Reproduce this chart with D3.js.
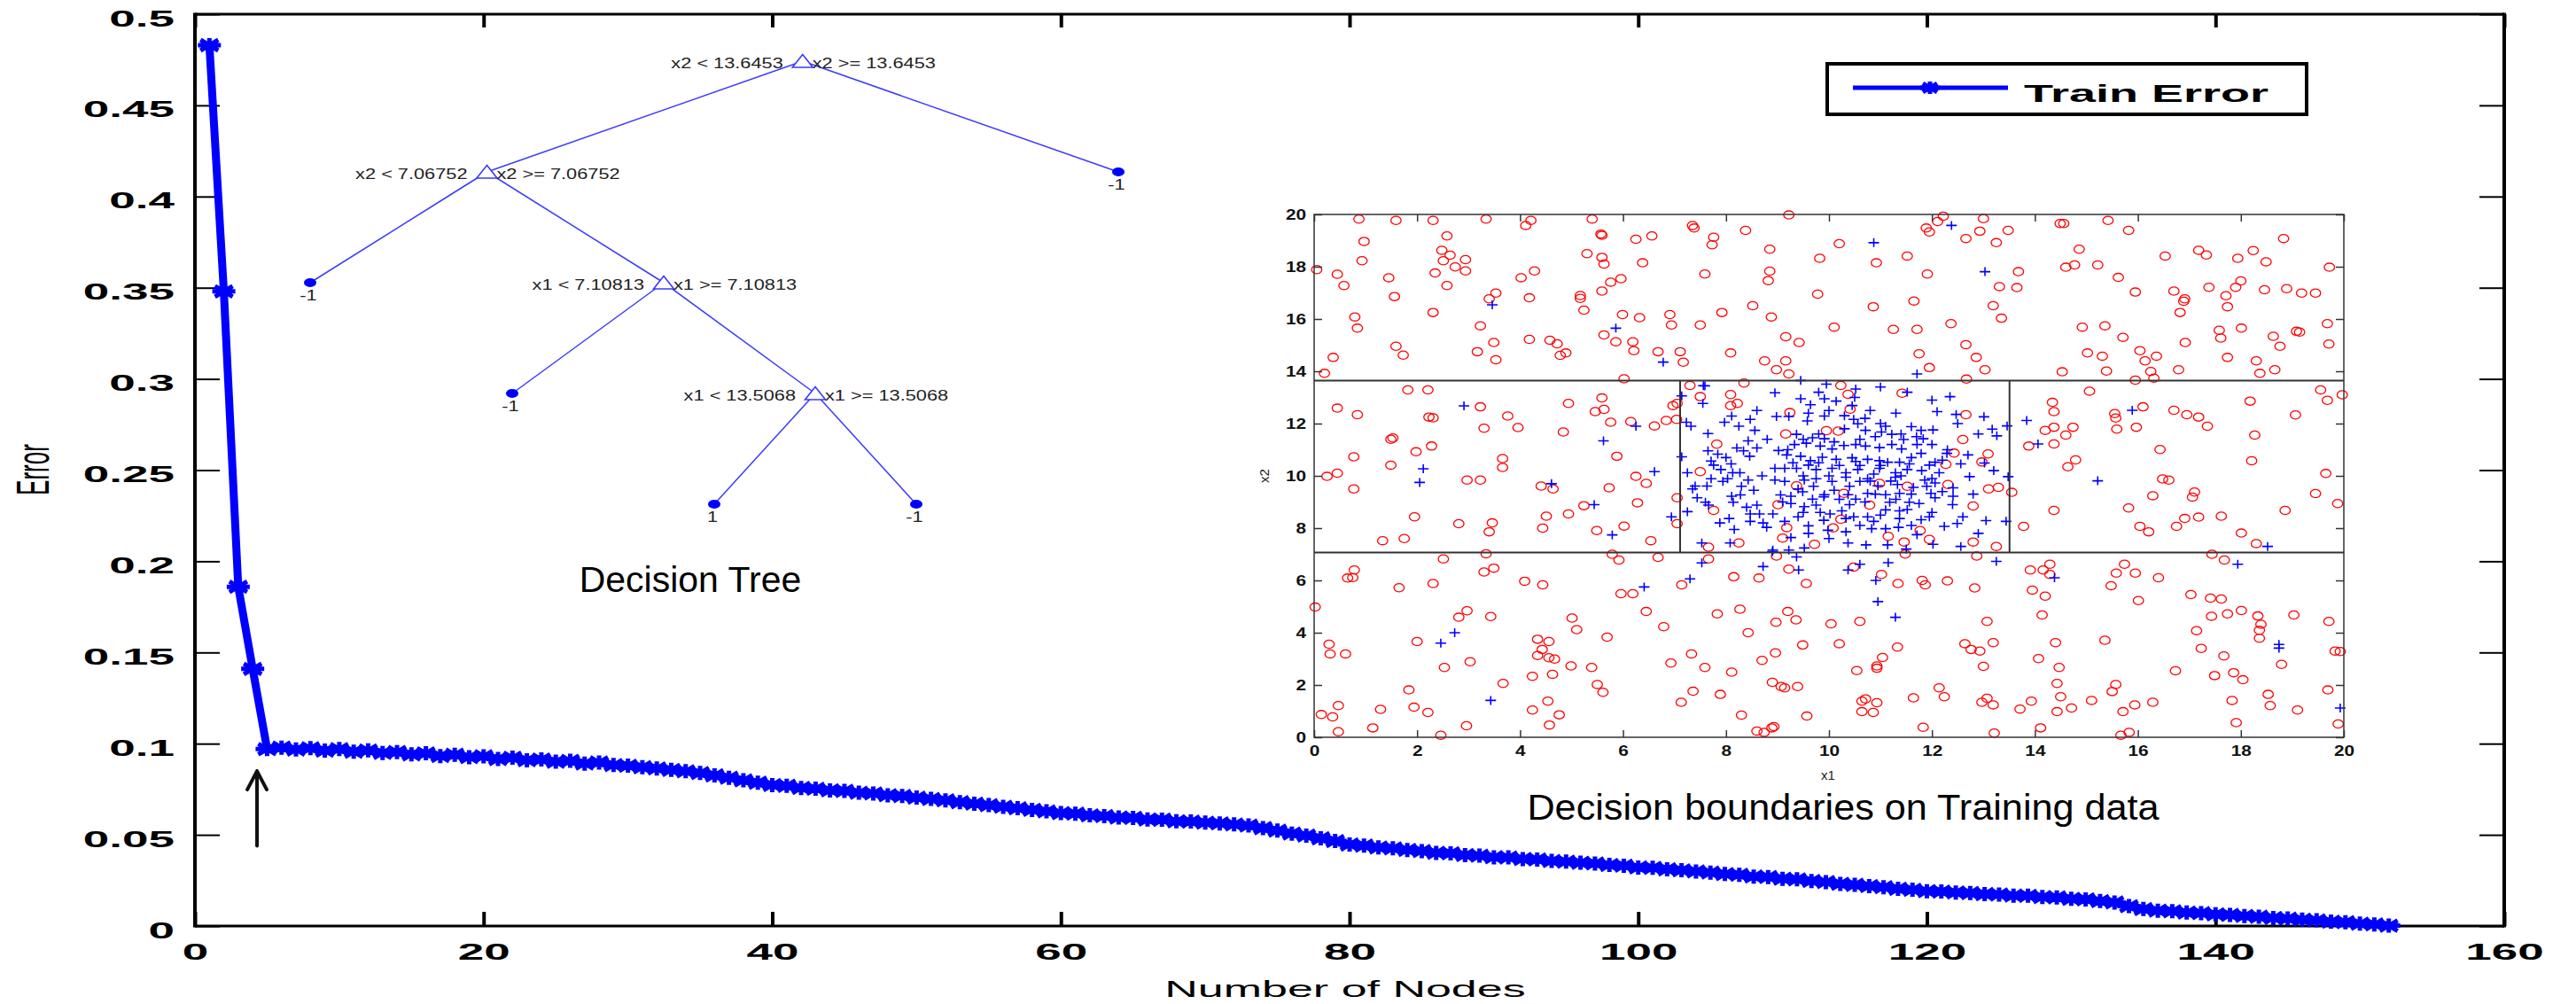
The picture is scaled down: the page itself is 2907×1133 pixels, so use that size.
<!DOCTYPE html>
<html>
<head>
<meta charset="utf-8">
<title>Train error vs. number of nodes</title>
<script src="https://cdn.jsdelivr.net/npm/d3@7"></script>
<style>
  html, body { margin: 0; padding: 0; background: #fff; }
  svg { display: block; }
</style>
</head>
<body>
<svg id="chart" width="2907" height="1133"></svg>
<script>
// ---------- main curve: training error against tree size ----------
const numNodes = [
  1,2,3,4,5,6,7,8,9,10,11,12,13,14,15,16,17,18,19,20,
  21,22,23,24,25,26,27,28,29,30,31,32,33,34,35,36,37,38,39,40,
  41,42,43,44,45,46,47,48,49,50,51,52,53,54,55,56,57,58,59,60,
  61,62,63,64,65,66,67,68,69,70,71,72,73,74,75,76,77,78,79,80,
  81,82,83,84,85,86,87,88,89,90,91,92,93,94,95,96,97,98,99,100,
  101,102,103,104,105,106,107,108,109,110,111,112,113,114,115,116,117,118,119,120,
  121,122,123,124,125,126,127,128,129,130,131,132,133,134,135,136,137,138,139,140,
  141,142,143,144,145,146,147,148,149,150,151,152
];
const trainError = [
  0.483, 0.348, 0.186, 0.141, 0.097,
  0.0978, 0.0968, 0.0975, 0.0962, 0.0970,
  0.0956, 0.0963, 0.0949, 0.0954, 0.0941,
  0.0947, 0.0932, 0.0939, 0.0926, 0.0931,
  0.0916, 0.0923, 0.0909, 0.0913, 0.0901,
  0.0906, 0.0891, 0.0897, 0.0883, 0.0879,
  0.0871, 0.0864, 0.0856, 0.0849, 0.0839,
  0.0826, 0.0813, 0.0799, 0.0786, 0.0773,
  0.0769, 0.0757, 0.0753, 0.0744, 0.0741,
  0.0731, 0.0727, 0.0717, 0.0713, 0.0704,
  0.0697, 0.0689, 0.0679, 0.0671, 0.0663,
  0.0654, 0.0646, 0.0637, 0.0629, 0.0619,
  0.0616, 0.0607, 0.0603, 0.0595, 0.0593,
  0.0584, 0.0583, 0.0574, 0.0573, 0.0567,
  0.0563, 0.0557, 0.0551, 0.0537, 0.0523,
  0.0507, 0.0496, 0.0481, 0.0466, 0.0447,
  0.0441, 0.0431, 0.0426, 0.0417, 0.0411,
  0.0401, 0.0399, 0.0389, 0.0386, 0.0377,
  0.0376, 0.0367, 0.0365, 0.0357, 0.0353,
  0.0347, 0.0343, 0.0335, 0.0331, 0.0321,
  0.0319, 0.0311, 0.0306, 0.0299, 0.0293,
  0.0285, 0.0281, 0.0271, 0.0269, 0.0259,
  0.0256, 0.0247, 0.0241, 0.0231, 0.0226,
  0.0219, 0.0213, 0.0204, 0.0199, 0.0191,
  0.0189, 0.0184, 0.0181, 0.0175, 0.0173,
  0.0167, 0.0166, 0.0159, 0.0157, 0.0149,
  0.0146, 0.0137, 0.0129, 0.0109, 0.0093,
  0.0084, 0.0081, 0.0074, 0.0071, 0.0064,
  0.0061, 0.0055, 0.0051, 0.0044, 0.0041,
  0.0035, 0.0031, 0.0024, 0.0021, 0.0013,
  0.0009, 0.0002
];
const errorTicks = [0, 0.05, 0.1, 0.15, 0.2, 0.25, 0.3, 0.35, 0.4, 0.45, 0.5];
const nodeTicks = [0, 20, 40, 60, 80, 100, 120, 140, 160];
const seriesName = "Train Error";
// arrow marking the knee of the curve: node position, tail and head error
const kneeArrow = [4.3, 0.044, 0.085];

// ---------- decision tree (parent links, split rules, leaf classes) ----------
const treeNodes   = ["root", "n1", "leafE", "leafA", "n2", "leafB", "n3", "leafC", "leafD"];
const treeParents = [null, "root", "root", "n1", "n1", "n2", "n2", "n3", "n3"];
const splitVar    = ["x2", "x2", null, null, "x1", null, "x1", null, null];
const splitValue  = ["13.6453", "7.06752", null, null, "7.10813", null, "13.5068", null, null];
const leafClass   = [null, null, "-1", "-1", null, "-1", null, "1", "-1"];

// ---------- training data: class -1 (circles) and class +1 (plus) ----------
const negPoints = [
  [0.87,19.82],[1.59,19.77],[2.31,19.77],[3.34,19.82],[4.21,19.77],[4.11,19.58],[5.40,19.82],[5.57,19.25],[5.59,19.20],[6.25,19.05],
  [6.56,19.18],[7.35,19.58],[7.38,19.48],[7.76,19.13],[7.73,18.84],[8.38,19.39],[8.85,18.67],[0.97,18.97],[2.58,19.18],[0.93,18.23],
  [2.48,18.63],[2.64,18.44],[2.51,18.23],[2.94,18.27],[2.74,17.99],[2.94,17.84],[2.35,17.76],[2.58,17.28],[0.05,17.89],[0.45,17.71],
  [0.58,17.28],[1.45,17.58],[1.56,16.86],[0.79,16.08],[0.84,15.65],[2.31,16.25],[1.59,14.96],[1.73,14.62],[0.37,14.53],[0.20,13.92],
  [3.23,15.74],[3.49,15.10],[3.53,14.44],[3.17,14.75],[3.40,16.77],[3.53,16.99],[4.02,17.58],[4.28,17.84],[4.18,16.81],[4.18,15.22],
  [4.58,15.19],[4.72,15.05],[4.78,14.61],[4.89,14.70],[5.17,16.90],[5.17,16.79],[5.24,16.34],[5.30,18.50],[5.59,18.36],[5.63,18.10],
  [5.76,17.41],[5.96,17.54],[5.59,17.07],[6.38,18.15],[5.99,16.17],[6.32,16.05],[5.63,15.39],[5.86,15.13],[6.19,15.13],[6.21,14.79],
  [6.68,14.75],[7.11,14.75],[7.17,14.35],[6.02,13.71],[6.91,16.17],[6.94,15.77],[7.50,15.77],[7.59,17.72],[7.92,16.25],[8.09,14.70],
  [8.52,16.51],[8.75,14.40],[8.82,17.47],[8.85,17.83],[8.88,16.08],[8.35,13.55],
  [1.82,13.29],[2.21,13.29],[0.45,12.59],[0.84,12.34],[2.23,12.25],[2.31,12.22],[3.23,12.64],[3.30,11.82],[3.76,12.29],[3.96,11.85],
  [4.94,12.77],[4.84,11.68],[5.46,12.46],[5.63,12.54],[5.59,12.98],[5.76,12.05],[6.15,12.08],[6.61,11.91],[6.84,12.12],[7.04,12.16],
  [6.97,12.69],[7.05,12.77],[0.77,10.73],[1.49,11.40],[1.53,11.45],[1.98,10.92],[2.28,11.14],[1.49,10.41],[0.45,10.10],[0.25,9.98],
  [0.77,9.50],[3.66,10.66],[3.66,10.32],[2.97,9.84],[3.23,9.84],[5.88,10.75],[4.41,9.61],[4.64,9.50],[5.73,9.54],[6.25,9.98],
  [6.45,9.71],[6.28,8.97],[7.05,9.16],[1.95,8.43],[2.81,8.17],[3.46,8.20],[3.40,7.86],[1.33,7.52],[1.75,7.60],[4.44,8.00],
  [4.51,8.46],[4.94,8.54],[5.24,8.86],[5.49,7.91],[6.02,8.08],[6.54,7.52],[7.05,8.17],
  [7.30,13.46],[7.50,13.03],[8.09,13.11],[8.09,12.69],[8.22,12.77],[7.82,11.21],[7.50,10.16],[7.76,8.68],[7.66,7.27],[8.25,7.43],
  [0.02,4.98],[0.65,6.09],[0.75,6.11],[0.78,6.40],[1.65,5.72],[2.31,5.88],[2.51,6.82],[2.81,4.59],[2.97,4.84],[3.30,6.32],
  [3.49,6.47],[3.34,7.02],[3.43,4.62],[4.09,5.97],[4.44,5.83],[5.01,4.56],[5.79,7.00],[5.92,6.78],[5.96,5.49],[6.19,5.49],
  [6.45,4.81],[6.68,6.88],[7.14,5.83],[7.66,6.82],[7.83,4.72],[8.15,6.14],[8.27,4.90],[8.64,6.09],
  [9.22,19.98],[12.22,19.93],[12.11,19.73],[11.89,19.48],[11.95,19.33],[13.00,19.84],[12.93,19.36],[12.66,19.08],[13.48,19.39],[13.25,18.92],
  [14.49,19.65],[14.56,19.65],[15.42,19.77],[15.82,19.39],[18.83,19.08],[10.20,18.88],[9.82,18.32],[10.92,18.15],[11.52,18.41],[11.91,17.72],
  [13.68,17.81],[13.31,17.24],[13.65,17.20],[14.86,18.67],[14.60,17.98],[14.77,18.07],[15.22,18.07],[15.62,17.59],[15.95,17.03],[16.53,18.41],
  [17.18,18.63],[17.33,18.45],[17.94,18.32],[18.24,18.62],[18.49,18.19],[19.72,17.98],[9.78,16.95],[10.86,16.47],[11.65,16.69],[13.19,16.51],
  [13.35,16.03],[12.37,15.82],[10.10,15.69],[11.25,15.60],[11.71,15.60],[16.70,17.07],[16.91,16.77],[16.89,16.68],[16.82,16.25],[17.38,17.21],
  [17.71,16.89],[17.74,16.47],[17.90,17.21],[18.00,17.46],[18.46,17.12],[18.89,17.16],[19.18,16.99],[19.45,16.99],[19.68,15.82],[19.71,15.04],
  [14.92,15.69],[15.36,15.74],[15.71,15.30],[16.92,15.10],[17.58,15.57],[17.61,15.27],[18.01,15.65],[18.63,15.34],[18.76,14.96],[19.08,15.53],
  [19.14,15.50],[9.16,15.32],[9.42,15.10],[9.16,14.40],[8.98,14.06],[9.22,13.90],[11.75,14.67],[12.86,14.53],[11.95,14.14],[13.03,14.06],
  [12.66,15.02],[15.02,14.70],[15.31,14.58],[16.04,14.79],[16.36,14.58],[16.14,14.40],[14.53,13.98],[15.39,14.01],[16.25,13.99],[16.79,14.06],
  [17.74,14.53],[18.30,14.40],[18.37,13.92],[18.66,14.06],[12.67,13.70],[15.95,13.66],[16.31,13.74],
  [15.06,13.24],[14.34,12.81],[14.37,12.46],[14.20,11.74],[14.37,11.86],[14.74,11.86],[14.60,11.56],[13.88,11.14],[14.37,11.22],[14.64,10.35],
  [14.79,10.61],[15.55,12.38],[15.57,12.21],[15.59,11.79],[15.97,11.86],[16.10,12.64],[16.70,12.51],[16.95,12.34],[17.18,12.25],[17.35,11.90],
  [18.18,12.86],[18.27,11.56],[19.06,12.33],[19.55,13.29],[19.68,12.89],[19.97,13.10],[16.43,11.01],[18.21,10.58],[16.48,9.88],[16.60,9.84],
  [19.65,10.09],[16.29,9.24],[17.10,9.38],[17.06,9.19],[19.45,9.32],[19.88,8.94],[14.37,8.68],[15.82,8.77],[18.86,8.68],[16.04,8.07],
  [16.21,7.86],[16.75,8.07],[16.91,8.37],[17.18,8.42],[17.62,8.46],[18.01,7.81],[18.30,7.41],[13.78,8.07],
  [10.23,13.46],[10.37,13.12],[11.42,13.16],[12.66,12.34],[9.24,12.42],[9.95,11.73],[10.18,11.71],[9.16,11.60],[12.60,11.39],[12.43,10.87],
  [13.09,10.84],[12.97,10.53],[12.27,10.44],[13.10,9.50],[13.29,9.56],[13.55,9.37],[12.31,9.67],[12.80,8.85],[11.77,7.91],[11.95,7.57],
  [11.15,7.69],[11.46,7.47],[12.80,7.47],[13.25,7.30],[9.72,7.38],[9.10,7.62],[9.18,8.02],[10.08,8.01],[10.23,8.34],[10.79,8.88],
  [9.01,8.90],[9.37,9.62],[10.29,9.33],[10.98,9.71],[11.52,9.60],[10.41,12.55],
  [8.98,6.93],[9.22,6.43],[9.56,5.88],[10.48,6.51],[11.02,6.23],[11.34,5.88],[11.48,7.01],[11.81,6.00],[11.87,5.83],[12.30,5.98],
  [12.83,5.71],[12.87,6.93],[13.91,6.40],[14.16,6.40],[14.29,6.62],[14.29,6.23],[13.95,5.63],[14.20,5.40],[15.48,5.80],[15.58,6.28],
  [15.74,6.62],[15.95,6.28],[16.40,6.10],[16.01,5.23],[17.44,7.00],[17.68,6.78],[17.03,5.46],[17.41,5.32],[17.62,5.29],[17.74,4.72],
  [18.01,4.85],[18.33,4.64],[19.03,4.68],[14.14,4.68],[9.20,4.81],
  [0.29,3.56],[0.31,3.19],[0.61,3.19],[0.14,0.87],[0.36,0.78],[0.47,1.21],[0.47,0.21],[1.14,0.36],[1.29,1.07],[1.94,1.15],
  [2.21,0.95],[1.84,1.81],[2.00,3.66],[2.46,0.08],[2.53,2.67],[3.03,2.89],[2.96,0.44],[3.67,2.06],[4.24,2.33],[4.24,1.04],
  [4.34,3.75],[4.43,3.36],[4.34,3.13],[4.56,3.66],[4.56,3.04],[4.67,2.99],[4.63,2.41],[4.54,1.38],[4.57,0.47],[4.76,0.86],
  [4.99,2.73],[5.10,4.12],[5.39,2.67],[5.50,2.02],[5.61,1.72],[5.69,3.83],[6.79,4.23],[6.93,2.84],[7.13,1.34],[7.33,3.19],
  [7.36,1.76],[7.59,2.67],[7.89,1.64],[8.11,2.49],[8.30,0.85],[8.43,4.00],[8.60,0.24],[8.74,0.19],[8.70,2.94],[8.89,0.36],
  [8.93,0.41],[8.90,2.10],[8.97,4.40],[9.07,1.94],[9.14,1.89],[9.39,1.94],[9.36,4.49],[8.96,3.23],[9.49,3.53],[9.57,0.81],
  [10.04,4.34],[10.20,3.58],[10.54,2.55],[10.60,4.43],[10.64,1.38],[10.71,1.47],[10.64,0.98],[10.86,0.95],[10.93,2.64],[10.93,2.73],
  [10.93,1.32],[11.04,3.05],[11.33,3.45],[11.64,1.51],[11.83,0.38],[12.14,1.89],[12.24,1.55],[12.64,3.58],[12.76,3.36],[12.93,3.30],
  [13.00,2.71],[12.97,1.34],[13.07,1.49],[13.07,4.43],[13.19,3.62],[13.19,1.24],[13.21,0.16],[13.71,1.08],[13.93,1.38],[14.07,3.01],
  [14.11,0.36],[14.40,3.62],[14.43,2.06],[14.47,2.67],[14.50,1.55],[14.43,0.98],[14.71,1.12],[15.10,1.41],[15.36,3.71],[15.50,1.75],
  [15.57,2.02],[15.71,0.98],[15.67,0.08],[15.83,0.19],[15.94,1.24],[16.29,1.34],[16.73,2.54],[17.14,4.08],[17.23,3.40],[17.43,4.63],
  [17.49,2.36],[17.67,3.11],[17.83,1.41],[17.86,2.47],[17.91,0.56],[18.04,2.20],[18.39,4.32],[18.36,4.09],[18.36,3.79],[18.53,1.64],
  [18.57,1.21],[18.79,2.79],[19.10,1.04],[19.69,1.81],[19.71,4.43],[19.83,3.30],[19.93,3.28],[19.89,0.51]
];
const posPoints = [
  [3.46,16.54],[5.86,15.65],[6.78,14.35],[2.91,12.68],[2.12,10.27],[2.05,9.75],[4.61,9.70],[5.62,11.34],[6.25,11.90],[6.61,10.16],
  [5.44,8.90],[5.79,7.74],[6.94,8.43],
  [7.56,13.45],[7.59,13.44],[7.55,12.77],[7.14,13.06],[7.23,12.05],[7.32,11.90],[7.65,11.62],[7.97,12.05],[8.11,12.29],[8.25,11.90],[8.47,12.16],
  [8.43,11.34],[8.56,11.74],[7.14,10.73],[7.25,10.12],[7.65,10.96],[7.84,10.83],[7.71,10.57],[7.76,10.41],[7.90,10.24],[8.10,10.46],
  [8.21,11.07],[8.34,10.96],[8.46,10.75],[8.60,11.07],[7.40,9.61],[7.35,9.50],[7.44,9.16],[7.63,9.61],[7.71,9.89],[7.94,9.79],
  [8.03,9.89],[8.13,10.12],[8.27,10.12],[8.43,9.84],[8.11,9.22],[8.28,9.27],[8.14,8.99],[8.54,9.45],[8.60,8.88],[8.47,8.54],
  [8.65,8.54],[7.25,8.63],[7.60,8.99],[7.66,8.88],[7.88,8.20],[8.06,8.37],[8.16,7.95],[8.47,8.26],[8.72,8.20],[8.79,8.03],
  [7.53,7.43],[8.08,7.43],[8.90,7.10],
  [6.41,5.75],[7.30,6.06],[7.53,6.67],[8.72,6.53],
  [12.38,19.58],[10.87,18.92],[13.03,17.81],[11.71,13.90],
  [13.84,12.12],[14.06,11.22],[15.89,12.51],[15.22,9.81],[18.52,7.30],
  [9.45,13.65],[9.95,13.51],[10.52,13.32],[8.95,13.18],[9.45,12.95],[9.64,12.72],[9.91,12.95],[10.14,12.86],[10.45,12.69],[10.80,12.50],
  [11.52,13.20],[12.35,13.03],[12.10,12.46],[12.47,12.35],[13.01,12.26],[13.46,11.91],[13.17,11.79],[13.26,11.53],[8.98,12.27],[9.22,12.27],
  [9.58,12.10],[9.91,12.29],[10.48,12.16],[10.56,11.99],[10.71,11.74],[11.60,11.88],[11.79,11.74],[12.02,11.76],[11.02,11.68],[11.22,11.59],
  [11.45,11.39],[11.83,11.42],[9.37,11.59],[9.68,11.46],[9.91,11.42],[9.33,11.20],[9.56,11.25],[9.83,11.14],[10.06,11.03],[10.29,11.16],
  [10.52,11.20],[10.71,11.14],[10.98,11.08],[11.22,11.20],[11.41,11.03],[11.71,11.20],[9.02,10.97],[9.18,10.80],[9.45,10.75],[9.64,10.58],
  [9.87,10.71],[10.14,10.63],[10.45,10.69],[10.52,10.55],[10.75,10.63],[10.98,10.58],[11.14,10.52],[11.37,10.52],[11.56,10.46],[11.79,10.86],
  [12.06,10.52],[12.29,10.86],[12.56,10.46],[13.02,10.49],[8.95,10.29],[9.14,10.29],[9.37,10.29],[9.60,10.41],[9.75,10.24],[10.06,10.29],
  [10.33,10.12],[10.56,10.24],[10.87,10.07],[10.98,10.29],[11.29,10.12],[11.52,10.24],[11.95,10.41],[12.14,10.12],[8.95,9.84],[9.14,9.79],
  [9.52,9.84],[9.75,9.89],[10.06,9.79],[10.33,9.95],[10.60,9.79],[10.75,9.89],[10.95,9.62],[11.29,9.95],[11.33,9.67],[11.64,9.56],
  [11.86,9.84],[12.06,9.73],[12.41,9.54],[12.73,9.97],[13.48,9.97],[9.06,9.27],[9.26,9.22],[9.49,9.39],[9.68,9.11],[9.91,9.28],
  [10.10,9.45],[10.37,9.28],[10.52,9.11],[10.75,9.33],[11.10,9.28],[11.37,9.33],[11.56,8.99],[11.75,8.94],[11.98,9.33],[12.06,9.16],
  [12.41,9.22],[9.26,8.94],[9.52,8.82],[9.75,8.88],[9.83,8.60],[10.02,8.54],[10.25,8.66],[10.33,8.37],[10.48,8.43],[10.75,8.43],
  [10.87,8.26],[11.18,8.99],[11.37,8.66],[11.52,8.71],[11.37,8.37],[11.79,8.32],[11.95,8.43],[12.60,8.43],[12.49,8.18],[12.24,8.07],
  [13.05,8.29],[13.44,8.26],[8.91,8.54],[9.14,8.26],[9.40,8.43],[9.60,8.09],[9.98,7.92],[10.33,7.86],[10.83,7.98],[11.10,7.98],
  [11.35,8.03],[11.71,7.75],[9.26,7.64],[10.37,7.43],[10.72,7.36],[11.14,7.36],[12.02,7.38],[12.56,7.30],[8.91,7.16],[9.22,7.16],
  [9.52,7.24],
  [9.30,10.50],[9.50,10.00],[9.80,10.50],[10.00,10.00],[10.20,10.40],[10.40,9.60],[10.60,10.40],[10.80,9.80],[11.00,10.40],[11.20,9.80],
  [11.40,10.00],[11.60,10.70],[11.80,10.20],[12.00,9.90],[12.20,10.60],[9.40,9.50],[9.70,9.60],[9.90,9.20],[10.20,9.10],[10.40,8.90],
  [10.70,9.00],[10.90,9.30],[11.10,8.70],[11.30,9.10],[11.60,9.30],[11.90,9.60],[12.20,9.40],[9.20,11.00],[9.50,11.40],[9.80,11.60],
  [10.10,11.30],[10.30,11.80],[10.60,11.40],[10.90,11.50],[11.10,11.90],[11.40,11.60],[11.70,11.50],[12.00,11.20],[12.30,11.00],[9.60,12.40],
  [10.00,12.50],[10.30,12.30],[10.70,12.20],[11.00,12.00],[11.30,12.40],[9.10,9.00],[9.50,8.60],[9.90,8.30],[10.60,8.10],[11.00,8.50],
  [11.60,8.10],[12.00,8.60],[12.40,8.90],[8.00,10.70],[8.30,9.60],[8.70,10.00],[8.80,11.40],[8.60,12.50],[8.40,8.80],[12.70,10.80],
  [12.80,9.30],[12.90,11.60],[13.20,10.20],[12.50,12.00],[10.50,13.00],[9.80,13.20],[11.00,13.40],[12.00,12.90],[10.00,7.60],[11.50,7.20],
  [9.60,7.80],[12.90,7.80],
  [9.37,6.90],[9.41,6.40],[10.37,6.40],[10.60,6.62],[11.15,6.68],[13.25,6.73],[10.91,6.00],[14.38,6.10],[10.95,5.19],[11.29,4.59],
  [17.94,6.62],
  [2.46,3.60],[2.73,4.00],[3.43,1.41],[18.74,3.55],[18.74,3.41],[19.93,1.12]
];
const featureTicks = [0, 2, 4, 6, 8, 10, 12, 14, 16, 18, 20];

// ---------- drawing ----------
const svg = d3.select("#chart");
svg.append("rect").attr("width", 2907).attr("height", 1133).attr("fill", "#fff");

const SANS = "'Liberation Sans', Arial, Helvetica, sans-serif";
const BLUE = "#0000ff";

const x = d3.scaleLinear().domain([0, 160]).range([220, 2826]);
const y = d3.scaleLinear().domain([0, 0.5]).range([1045, 16]);
const fmtErr = d => String(+d.toFixed(2));

// axes: ticks point inward, labels are bold and widened
const gLeft = svg.append("g").attr("transform", `translate(${x(0)},0)`)
  .call(d3.axisLeft(y).tickValues(errorTicks).tickSize(-28).tickSizeOuter(0).tickPadding(23).tickFormat(fmtErr));
const gBottom = svg.append("g").attr("transform", `translate(0,${y(0)})`)
  .call(d3.axisBottom(x).tickValues(nodeTicks).tickSize(-16).tickSizeOuter(0).tickPadding(38));
const gTop = svg.append("g").attr("transform", `translate(0,${y(0.5)})`)
  .call(d3.axisTop(x).tickValues(nodeTicks).tickSize(-15).tickSizeOuter(0).tickFormat(""));
const gRight = svg.append("g").attr("transform", `translate(${x(160)},0)`)
  .call(d3.axisRight(y).tickValues(errorTicks).tickSize(-28).tickSizeOuter(0).tickFormat(""));

[gLeft, gBottom, gTop, gRight].forEach(g => g.select(".domain").remove());
gLeft.selectAll(".tick line").attr("stroke", "#000").attr("stroke-width", 2);
gRight.selectAll(".tick line").attr("stroke", "#000").attr("stroke-width", 2);
gBottom.selectAll(".tick line").attr("stroke", "#000").attr("stroke-width", 4);
gTop.selectAll(".tick line").attr("stroke", "#000").attr("stroke-width", 4);

gLeft.selectAll(".tick text")
  .attr("font-family", SANS).attr("font-weight", "bold").attr("font-size", 26.5).attr("fill", "#000")
  .attr("dy", null).attr("y", 13).attr("x", -23 / 2).attr("transform", "scale(2,1)");
gBottom.selectAll(".tick text")
  .attr("font-family", SANS).attr("font-weight", "bold").attr("font-size", 26.5).attr("fill", "#000")
  .attr("dy", null).attr("y", 38).attr("transform", "scale(2,1)");

// plot frame
const frame = svg.append("g").attr("stroke", "#000");
frame.append("line").attr("x1", x(0)).attr("x2", x(0)).attr("y1", y(0.5) - 1.5).attr("y2", y(0) + 1.5).attr("stroke-width", 4);
frame.append("line").attr("x1", x(160)).attr("x2", x(160)).attr("y1", y(0.5) - 1.5).attr("y2", y(0) + 1.5).attr("stroke-width", 4);
frame.append("line").attr("x1", x(0)).attr("x2", x(160)).attr("y1", y(0.5)).attr("y2", y(0.5)).attr("stroke-width", 3);
frame.append("line").attr("x1", x(0)).attr("x2", x(160)).attr("y1", y(0)).attr("y2", y(0)).attr("stroke-width", 3);

// axis titles
svg.append("text").attr("transform", `translate(1518,1125) scale(2,1)`)
  .attr("text-anchor", "middle").attr("font-family", SANS).attr("font-size", 26).attr("fill", "#000")
  .text("Number of Nodes");
svg.append("text").attr("transform", `translate(55,530) scale(2,1) rotate(-90)`)
  .attr("text-anchor", "middle").attr("font-family", SANS).attr("font-size", 26).attr("fill", "#000")
  .text("Error");

// ---------- decision tree ----------
const treeRows = treeNodes.map((id, i) => ({
  id, parent: treeParents[i], variable: splitVar[i], value: splitValue[i], cls: leafClass[i]
}));
const treeRoot = d3.stratify().id(d => d.id).parentId(d => d.parent)(treeRows);
const leafPos = d3.scaleLinear().domain([0, 4]).range([350, 1262]);
const depthPos = d3.scaleLinear().domain([0, 4]).range([69, 569]);
treeRoot.leaves().forEach((leaf, i) => { leaf.px = leafPos(i); });
treeRoot.eachAfter(n => {
  if (n.children) n.px = d3.mean(n.children, c => c.px);
  n.py = depthPos(n.depth);
});

const TREE_LINE = "#3a3aff";
const treeG = svg.append("g");
treeG.selectAll("line.link").data(treeRoot.links()).join("line")
  .attr("class", "link")
  .attr("x1", d => d.source.px).attr("y1", d => d.source.py)
  .attr("x2", d => d.target.px).attr("y2", d => d.target.py)
  .attr("stroke", TREE_LINE).attr("stroke-width", 1.5);

const splits = treeRoot.descendants().filter(n => n.children);
const leaves = treeRoot.leaves();

treeG.selectAll("path.split").data(splits).join("path")
  .attr("class", "split")
  .attr("transform", d => `translate(${d.px},${d.py})`)
  .attr("d", "M0,-7.5L11.5,7L-11.5,7Z")
  .attr("fill", "#fff").attr("stroke", TREE_LINE).attr("stroke-width", 1.6);

treeG.selectAll("ellipse.leaf").data(leaves).join("ellipse")
  .attr("class", "leaf")
  .attr("cx", d => d.px).attr("cy", d => d.py).attr("rx", 7).attr("ry", 5)
  .attr("fill", BLUE);

const treeText = (sel) => sel.attr("font-family", SANS).attr("font-size", 17).attr("fill", "#222");
treeG.selectAll("text.ruleL").data(splits).join("text")
  .attr("class", "ruleL")
  .attr("transform", d => `translate(${d.px - 22},${d.py + 8}) scale(1.28,1)`)
  .attr("text-anchor", "end").call(treeText)
  .text(d => `${d.data.variable} < ${d.data.value}`);
treeG.selectAll("text.ruleR").data(splits).join("text")
  .attr("class", "ruleR")
  .attr("transform", d => `translate(${d.px + 11},${d.py + 8}) scale(1.28,1)`)
  .attr("text-anchor", "start").call(treeText)
  .text(d => `${d.data.variable} >= ${d.data.value}`);
treeG.selectAll("text.cls").data(leaves).join("text")
  .attr("class", "cls")
  .attr("transform", d => `translate(${d.px - 2},${d.py + 20}) scale(1.28,1)`)
  .attr("text-anchor", "middle").call(treeText)
  .text(d => d.data.cls);

svg.append("text").attr("x", 779).attr("y", 668)
  .attr("text-anchor", "middle").attr("font-family", SANS).attr("font-size", 41).attr("fill", "#000")
  .text("Decision Tree");

// ---------- decision boundaries on the training data ----------
const sx = d3.scaleLinear().domain([0, 20]).range([1483, 2645]);
const sy = d3.scaleLinear().domain([0, 20]).range([832, 242]);
const inset = svg.append("g");

const x2Cuts = treeRows.filter(r => r.variable === "x2").map(r => +r.value);
const x1Cuts = treeRows.filter(r => r.variable === "x1").map(r => +r.value);
const bandLo = d3.min(x2Cuts), bandHi = d3.max(x2Cuts);

inset.selectAll("ellipse.neg").data(negPoints).join("ellipse")
  .attr("class", "neg")
  .attr("cx", d => sx(d[0])).attr("cy", d => sy(d[1])).attr("rx", 5.8).attr("ry", 4.6)
  .attr("fill", "none").attr("stroke", "#ff0000").attr("stroke-width", 1.3);
inset.selectAll("path.pos").data(posPoints).join("path")
  .attr("class", "pos")
  .attr("transform", d => `translate(${sx(d[0])},${sy(d[1])})`)
  .attr("d", "M-6,0H6M0,-5V5")
  .attr("stroke", BLUE).attr("stroke-width", 1.6);

const cutG = inset.append("g").attr("stroke", "#333").attr("stroke-width", 2);
cutG.selectAll("line.h").data(x2Cuts).join("line").attr("class", "h")
  .attr("x1", sx(0)).attr("x2", sx(20)).attr("y1", d => sy(d)).attr("y2", d => sy(d));
cutG.selectAll("line.v").data(x1Cuts).join("line").attr("class", "v")
  .attr("x1", d => sx(d)).attr("x2", d => sx(d)).attr("y1", sy(bandLo)).attr("y2", sy(bandHi));

inset.append("rect").attr("x", sx(0)).attr("y", sy(20))
  .attr("width", sx(20) - sx(0)).attr("height", sy(0) - sy(20))
  .attr("fill", "none").attr("stroke", "#333").attr("stroke-width", 1.5);

const iL = inset.append("g").attr("transform", `translate(${sx(0)},0)`)
  .call(d3.axisLeft(sy).tickValues(featureTicks).tickSize(-9).tickSizeOuter(0).tickPadding(9));
const iB = inset.append("g").attr("transform", `translate(0,${sy(0)})`)
  .call(d3.axisBottom(sx).tickValues(featureTicks).tickSize(-8).tickSizeOuter(0).tickPadding(9));
const iT = inset.append("g").attr("transform", `translate(0,${sy(20)})`)
  .call(d3.axisTop(sx).tickValues(featureTicks).tickSize(-8).tickSizeOuter(0).tickFormat(""));
const iR = inset.append("g").attr("transform", `translate(${sx(20)},0)`)
  .call(d3.axisRight(sy).tickValues(featureTicks).tickSize(-9).tickSizeOuter(0).tickFormat(""));
[iL, iB, iT, iR].forEach(g => {
  g.select(".domain").remove();
  g.selectAll(".tick line").attr("stroke", "#333").attr("stroke-width", 1.5);
});
iL.selectAll(".tick text")
  .attr("font-family", SANS).attr("font-weight", "bold").attr("font-size", 16).attr("fill", "#111")
  .attr("x", -9 / 1.3).attr("transform", "scale(1.3,1)");
iB.selectAll(".tick text")
  .attr("font-family", SANS).attr("font-weight", "bold").attr("font-size", 16).attr("fill", "#111")
  .attr("dy", null).attr("y", 21).attr("transform", "scale(1.3,1)");

inset.append("text").attr("x", 2063).attr("y", 880)
  .attr("text-anchor", "middle").attr("font-family", SANS).attr("font-size", 15).attr("fill", "#222")
  .text("x1");
inset.append("text").attr("transform", "translate(1432,537) rotate(-90)")
  .attr("text-anchor", "middle").attr("font-family", SANS).attr("font-size", 15).attr("fill", "#222")
  .text("x2");

svg.append("text").attr("transform", "translate(2080,925) scale(1.08,1)")
  .attr("text-anchor", "middle").attr("font-family", SANS).attr("font-size", 40).attr("fill", "#000")
  .text("Decision boundaries on Training data");

// ---------- training error series ----------
const STAR = "M-13,0H13M0,-8V8M-10,-6L10,6M-10,6L10,-6";
const series = numNodes.map((n, i) => [n, trainError[i]]);
svg.append("path").datum(series)
  .attr("d", d3.line().x(d => x(d[0])).y(d => y(d[1])))
  .attr("fill", "none").attr("stroke", BLUE).attr("stroke-width", 9).attr("stroke-linejoin", "miter");
svg.append("g").selectAll("path").data(series).join("path")
  .attr("transform", d => `translate(${x(d[0])},${y(d[1])})`)
  .attr("d", STAR).attr("fill", "none").attr("stroke", BLUE).attr("stroke-width", 5);

// arrow at the knee of the curve
const ax = x(kneeArrow[0]), ay0 = y(kneeArrow[1]), ay1 = y(kneeArrow[2]);
svg.append("path")
  .attr("d", `M${ax},${ay0}V${ay1}M${ax - 11},${ay1 + 21}L${ax},${ay1}L${ax + 11},${ay1 + 21}`)
  .attr("fill", "none").attr("stroke", "#111").attr("stroke-width", 4)
  .attr("stroke-linecap", "round").attr("stroke-linejoin", "round");

// ---------- legend ----------
const legend = svg.append("g");
legend.append("rect").attr("x", 2062).attr("y", 72).attr("width", 541).attr("height", 57)
  .attr("fill", "#fff").attr("stroke", "#000").attr("stroke-width", 4);
legend.append("line").attr("x1", 2091).attr("x2", 2266).attr("y1", 99).attr("y2", 99)
  .attr("stroke", BLUE).attr("stroke-width", 5);
legend.append("path").attr("transform", "translate(2178,99)")
  .attr("d", "M-11,0H11M0,-7V7M-8,-5L8,5M-8,5L8,-5").attr("stroke", BLUE).attr("stroke-width", 5);
legend.append("text").attr("transform", "translate(2284,115) scale(2,1)")
  .attr("font-family", SANS).attr("font-weight", "bold").attr("font-size", 27).attr("fill", "#000")
  .text(seriesName);
</script>
</body>
</html>
